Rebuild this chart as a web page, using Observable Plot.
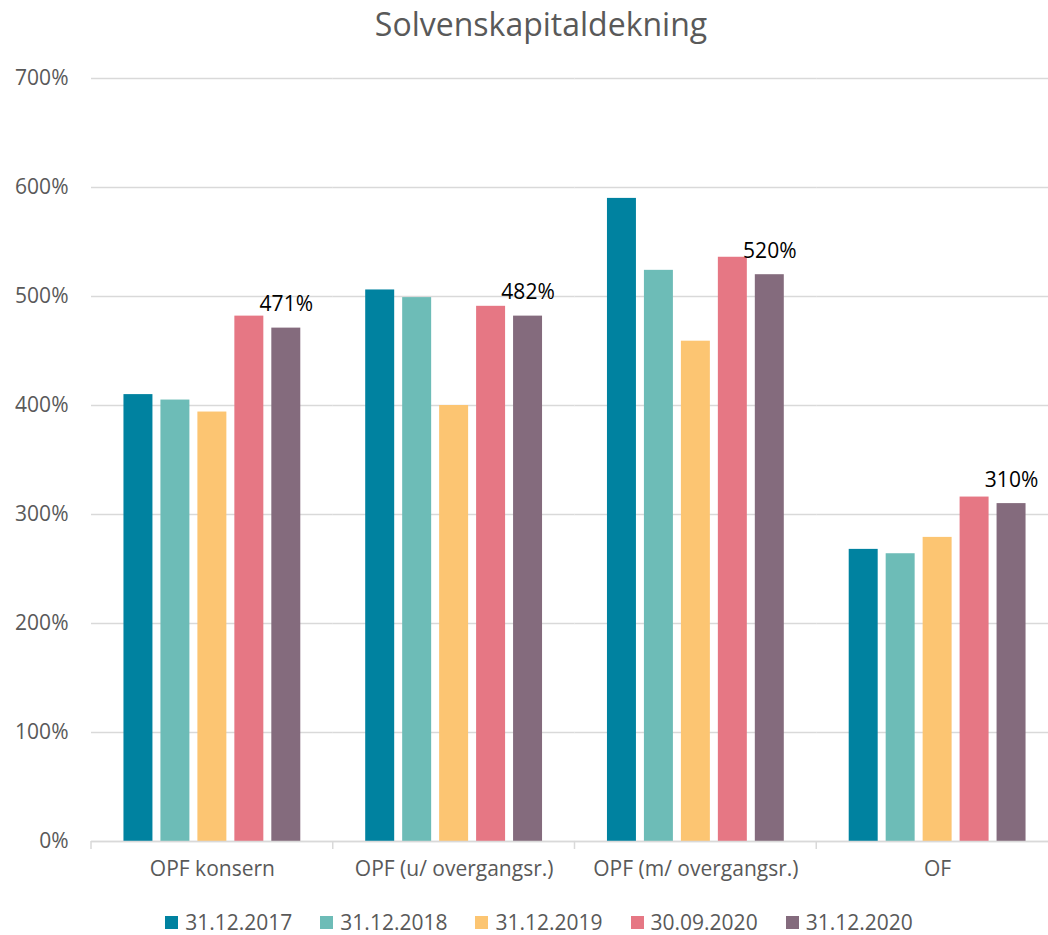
<!DOCTYPE html>
<html>
<head>
<meta charset="utf-8">
<script src="https://cdn.jsdelivr.net/npm/d3@7"></script>
<script src="https://cdn.jsdelivr.net/npm/@observablehq/plot@0.6"></script>
<style>
  html, body { margin: 0; padding: 0; background: #fff; overflow: hidden; }
  body { width: 1048px; height: 935px; position: relative; font-family: "Open Sans", sans-serif; }
  #title { position: absolute; left: 0; top: 4px; width: 1082px; text-align: center; font-size: 32px; line-height: 40px; color: #595959; }
  #chart { position: absolute; left: 0; top: 0; }
  #legend { position: absolute; left: 0; top: 906px; width: 1048px; padding-left: 30px; box-sizing: border-box;
            display: flex; justify-content: center; gap: 28px; font-size: 21px; color: #595959; line-height: 32px; }
  .item { display: flex; align-items: center; }
  .sw { width: 13px; height: 13px; margin-right: 7px; margin-top: 1px; }
</style>
</head>
<body>
<div id="title">Solvenskapitaldekning</div>
<div id="chart"></div>
<div id="legend"></div>
<script>
const categories = ["OPF konsern", "OPF (u/ overgangsr.)", "OPF (m/ overgangsr.)", "OF"];
const series = ["31.12.2017", "31.12.2018", "31.12.2019", "30.09.2020", "31.12.2020"];
const v2017 = [410, 506, 590, 268];
const v2018 = [405, 499, 524, 264];
const v2019 = [394, 400, 459, 279];
const v2020q3 = [482, 491, 536, 316];
const v2020 = [471, 482, 520, 310];
const colors = ["#0082A0", "#6DBCB7", "#FCC572", "#E67784", "#846B7D"];
const yTicks = [0, 100, 200, 300, 400, 500, 600, 700];
const labelSeries = "31.12.2020";

const seriesValues = [v2017, v2018, v2019, v2020q3, v2020];
const data = [];
categories.forEach((c, i) => {
  series.forEach((s, j) => data.push({category: c, series: s, value: seriesValues[j][i]}));
});

const font = "'Open Sans', sans-serif";
const plot = Plot.plot({
  width: 1048,
  height: 890,
  marginTop: 78,
  marginBottom: 49,
  marginLeft: 91,
  marginRight: 0,
  style: {fontFamily: font, background: "transparent"},
  fx: {domain: categories, range: [91, 1058], paddingInner: 0, paddingOuter: 0, round: false, label: null},
  x: {domain: series, paddingInner: 0.216, paddingOuter: 0.878, round: false, axis: null},
  y: {domain: [0, 700], label: null},
  color: {domain: series, range: colors},
  marks: [
    Plot.gridY(yTicks, {stroke: "#d9d9d9", strokeOpacity: 1, strokeWidth: 1.5}),
    Plot.axisY(yTicks, {tickSize: 0, tickPadding: 23, tickFormat: d => d + "%", fontSize: 21, fill: "#595959", label: null}),
    Plot.axisFx({anchor: "bottom", tickSize: 0, tickPadding: 20, fontSize: 21, fill: "#595959", label: null}),
    Plot.barY(data, {fx: "category", x: "series", y: "value", fill: "series"}),
    Plot.ruleY([0], {stroke: "#d9d9d9", strokeWidth: 1.5}),
    Plot.text(data.filter(d => d.series === labelSeries), {
      fx: "category", x: "series", y: "value", text: d => d.value + "%",
      lineAnchor: "bottom", dy: -17, fontSize: 21, fill: "#000"
    })
  ]
});
document.getElementById("chart").appendChild(plot);

// category boundary tick marks, placed from the library's own scales
const fxs = plot.scale("fx");
const ys = plot.scale("y");
const svg = d3.select(plot.tagName.toLowerCase() === "svg" ? plot : plot.querySelector("svg"));
const y0 = ys.apply(0);
const bounds = categories.map(c => fxs.apply(c));
bounds.push(fxs.apply(categories[categories.length - 1]) + fxs.bandwidth);
svg.append("g").selectAll("line").data(bounds).join("line")
  .attr("x1", d => d).attr("x2", d => d)
  .attr("y1", y0).attr("y2", y0 + 8)
  .attr("stroke", "#d9d9d9").attr("stroke-width", 1.5);

// legend
const legend = d3.select("#legend");
series.forEach((s, i) => {
  const item = legend.append("div").attr("class", "item");
  item.append("div").attr("class", "sw").style("background", colors[i]);
  item.append("span").text(s);
});
</script>
</body>
</html>
